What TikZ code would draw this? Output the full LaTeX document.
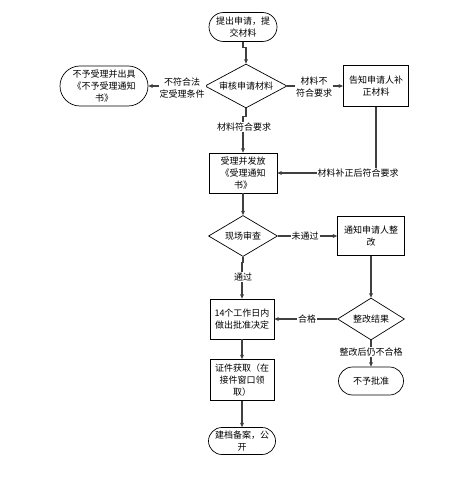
\documentclass[tikz,border=0pt]{standalone}
\usepackage{fontspec}
\newfontfamily\cjk{Noto Sans CJK SC}
\usetikzlibrary{shapes.geometric,shapes.misc,arrows.meta}
\begin{document}
\begin{tikzpicture}[x=1pt,y=-1pt,
  every node/.style={font=\cjk\fontsize{9}{12}\selectfont, align=center, inner sep=0pt},
  term/.style={draw, rounded rectangle, line width=0.7pt},
  box/.style={draw, rectangle, line width=0.7pt},
  dia/.style={draw, diamond, line width=0.7pt},
  conn/.style={draw=black!75, line width=1.1pt, -{Stealth[length=4.5pt,width=4pt]}},
  lab/.style={fill=white, inner sep=1pt}]
\useasboundingbox (0,0) rectangle (473,502);
% nodes
\node[term, minimum width=68pt, minimum height=29pt] (start) at (243,27) {提出申请，提\\交材料};
\node[dia, minimum width=82pt, minimum height=44pt, label=center:审核申请材料] (d1) at (246,86) {};
\node[term, minimum width=88pt, minimum height=40pt] (rej1) at (104,86) {不予受理并出具\\《不予受理通知\\书》};
\node[box, minimum width=65pt, minimum height=41pt, line width=1pt] (box1) at (376,86) {告知申请人补\\正材料};
\node[box, minimum width=68pt, minimum height=40pt] (box2) at (243,173) {受理并发放\\《受理通知\\书》};
\node[dia, minimum width=69pt, minimum height=41pt, label=center:现场审查] (d2) at (243,236) {};
\node[box, minimum width=67pt, minimum height=39pt] (box3) at (371,236) {通知申请人整\\改};
\node[box, minimum width=64pt, minimum height=40pt] (box4) at (242,319) {14个工作日内\\做出批准决定};
\node[dia, minimum width=67pt, minimum height=42pt, label=center:整改结果] (d3) at (371,319) {};
\node[term, minimum width=65pt, minimum height=28pt] (rej2) at (371,381) {不予批准};
\node[box, minimum width=64pt, minimum height=41pt] (box5) at (242,380) {证件获取（在\\接件窗口领\\取）};
\node[term, minimum width=67pt, minimum height=27pt] (end) at (242,441) {建档备案，公\\开};
% connectors
\draw[conn] (start.south) -- ++(0,6) -| (d1.north);
\draw[conn] (d1.west) -- (rej1.east);
\draw[conn] (d1.east) -- (box1.west);
\draw[conn] (d1.south) -- ++(0,8) -| (box2.north);
\draw[conn] (box1.south) |- (box2.east);
\draw[conn] (box2.south) -- (d2.north);
\draw[conn] (d2.east) -- (box3.west);
\draw[conn] (box3.south) -- (d3.north);
\draw[conn] (d2.south) -- ++(0,6) -| (box4.north);
\draw[conn] (d3.west) -- (box4.east);
\draw[conn] (d3.south) -- (rej2.north);
\draw[conn] (box4.south) -- (box5.north);
\draw[conn] (box5.south) -- (end.north);
% labels
\node[lab] (l1) at (182,88) {不符合法\\定受理条件};
\node[lab] (l2) at (314,87) {材料不\\符合要求};
\node[lab] (l3) at (244,127) {材料符合要求};
\node[lab] (l4) at (358,173) {材料补正后符合要求};
\node[lab] (l5) at (305,236) {未通过};
\node[lab] (l6) at (243,277) {通过};
\node[lab] (l7) at (307,319) {合格};
\node[lab] (l8) at (371,352) {整改后仍不合格};
\end{tikzpicture}
\end{document}
